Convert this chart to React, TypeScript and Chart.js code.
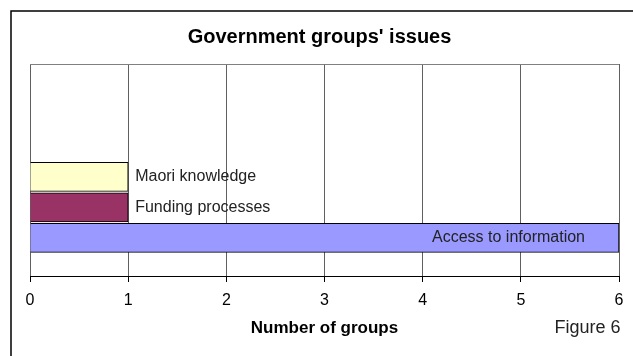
import React, { useEffect, useRef } from 'react';
import { Chart, registerables } from 'chart.js';

Chart.register(...registerables);

const chartTitle = "Government groups' issues";
const axisTitle = 'Number of groups';
const figureLabel = 'Figure 6';
const categories = ['Maori knowledge', 'Funding processes', 'Access to information'];
const values = [1, 1, 6];
const barColors = ['#FFFFCC', '#993366', '#9999FF'];
const xTicks = [0, 1, 2, 3, 4, 5, 6];

const FONT = "'Liberation Sans', Arial, sans-serif";

export default function App() {
  const ref = useRef<HTMLCanvasElement | null>(null);

  useEffect(() => {
    if (!ref.current) return;
    const framePlugin = {
      id: 'frame',
      beforeDraw(chart: any) {
        const ctx = chart.ctx;
        ctx.save();
        ctx.fillStyle = '#ffffff';
        ctx.fillRect(0, 0, chart.width, chart.height);
        ctx.strokeStyle = '#000000';
        ctx.lineWidth = 1.5;
        ctx.beginPath();
        ctx.moveTo(11, chart.height);
        ctx.lineTo(11, 11);
        ctx.lineTo(chart.width, 11);
        ctx.stroke();
        ctx.font = `bold 20px ${FONT}`;
        ctx.fillStyle = '#000000';
        ctx.textAlign = 'center';
        ctx.textBaseline = 'middle';
        ctx.fillText(chartTitle, 319.5, 37.5);
        ctx.restore();
      },
      afterDatasetsDraw(chart: any) {
        const ctx = chart.ctx;
        const a = chart.chartArea;
        ctx.save();
        ctx.strokeStyle = '#808080';
        ctx.lineWidth = 1;
        ctx.beginPath();
        ctx.moveTo(a.left, a.top + 0.5);
        ctx.lineTo(a.right, a.top + 0.5);
        ctx.stroke();
        const meta = chart.getDatasetMeta(0);
        ctx.font = `16px ${FONT}`;
        ctx.fillStyle = '#222222';
        ctx.textBaseline = 'middle';
        meta.data.forEach((bar: any, i: number) => {
          const text = categories[i];
          const w = ctx.measureText(text).width;
          const barLen = bar.x - bar.base;
          if (barLen > w + 60) {
            ctx.textAlign = 'right';
            ctx.fillText(text, bar.x - 34, bar.y);
          } else {
            ctx.textAlign = 'left';
            ctx.fillText(text, bar.x + 7, bar.y);
          }
        });
        ctx.font = `18px ${FONT}`;
        ctx.textAlign = 'right';
        ctx.fillStyle = '#222222';
        ctx.fillText(figureLabel, a.right + 1.5, 328.5);
        ctx.restore();
      },
    };

    const chart = new Chart(ref.current, {
      type: 'bar',
      data: {
        datasets: [
          {
            data: values.map((v, i) => ({ x: v, y: i })),
            backgroundColor: barColors,
            borderColor: '#000000',
            borderWidth: 1,
            barPercentage: 1,
            categoryPercentage: 1,
          },
        ],
      },
      options: {
        indexAxis: 'y',
        animation: false,
        responsive: false,
        datasets: { bar: { barPercentage: 1, categoryPercentage: 1 } },
        layout: { padding: { left: 30, right: 14, top: 64, bottom: 0 } },
        plugins: {
          legend: { display: false },
          tooltip: { enabled: false },
          title: { display: false },
        },
        scales: {
          y: {
            type: 'linear',
            display: false,
            reverse: true,
            offset: false,
            bounds: 'data',
            grace: 0,
            min: -3.7,
            max: 3.25,
          },
          x: {
            type: 'linear',
            min: xTicks[0],
            max: xTicks[xTicks.length - 1],
            afterFit: (scale: any) => {
              scale.height = 80;
            },
            afterBuildTicks: (scale: any) => {
              scale.ticks = xTicks.map((v) => ({ value: v }));
            },
            ticks: {
              color: '#000000',
              font: { family: FONT, size: 16 },
              padding: 9,
            },
            grid: {
              color: '#606060',
              tickColor: '#000000',
              tickLength: 6,
              lineWidth: 1,
            },
            border: { color: '#000000', width: 1 },
            title: {
              display: true,
              text: axisTitle,
              color: '#000000',
              font: { family: FONT, size: 17, weight: 'bold' },
              padding: { top: 0, bottom: 17 },
            },
          },
        },
      },
      plugins: [framePlugin],
    });
    return () => chart.destroy();
  }, []);

  return (
    <div style={{ position: 'fixed', left: 0, top: 0, width: 633, height: 356, background: '#fff' }}>
      <canvas ref={ref} width={633} height={356} style={{ display: 'block' }} />
    </div>
  );
}
